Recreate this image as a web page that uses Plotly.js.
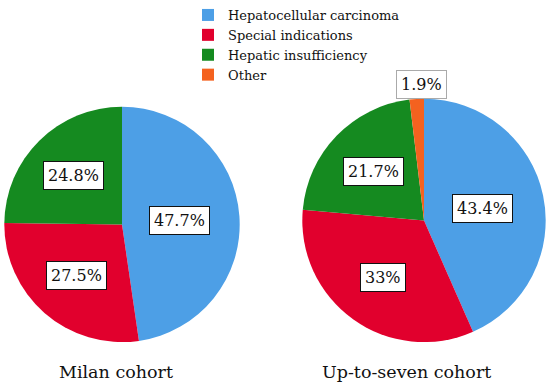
<!DOCTYPE html>
<html><head><meta charset="utf-8">
<script src="https://cdn.plot.ly/plotly-3.0.1.min.js"></script>
<style>html,body{margin:0;padding:0;background:#fff}</style>
</head><body>
<div id="chart" style="width:550px;height:387px"></div>
<script>
const categories = ["Hepatocellular carcinoma", "Special indications", "Hepatic insufficiency", "Other"];
const milanValues = [47.7, 27.5, 24.8, 0];
const upToSevenValues = [43.4, 33, 21.7, 1.9];
const milanLabels = ["47.7%", "27.5%", "24.8%", ""];
const upToSevenLabels = ["43.4%", "33%", "21.7%", "1.9%"];
const cohortTitles = ["Milan cohort", "Up-to-seven cohort"];
const colors = ["#4d9fe6", "#e1002d", "#158a20", "#f4621f"];

const W = 550, H = 387;
const FONT = 'DejaVu Serif';
// pie placement in pixels: [cx, cy, r]
const pies = [[122, 224, 118], [424, 220, 122]];
const px = x => x / W, py = y => 1 - y / H;

function pieTrace(vals, i, showLegend) {
  const [cx, cy, r] = pies[i];
  return {
    type: 'pie', labels: categories, values: vals, sort: false, direction: 'clockwise',
    rotation: 0, textinfo: 'none', hoverinfo: 'label+percent',
    marker: {colors: colors, line: {width: 0}},
    domain: {x: [px(cx - r), px(cx + r)], y: [py(cy + r), py(cy - r)]},
    showlegend: showLegend, name: cohortTitles[i]
  };
}

const annotations = [];
[[milanValues, milanLabels], [upToSevenValues, upToSevenLabels]].forEach(([vals, labs], i) => {
  const [cx, cy, r] = pies[i];
  const total = vals.reduce((a, b) => a + b, 0);
  let cum = 0;
  vals.forEach((v, k) => {
    const mid = (cum + v / 2) / total; cum += v;
    if (!v || !labs[k]) return;
    const small = v / total < 0.05;
    const ang = mid * 2 * Math.PI;
    const f = small ? 1.12 : (k === 0 ? 0.49 : 0.58);
    let x = cx + Math.sin(ang) * r * f, y = cy - Math.cos(ang) * r * f;
    if (small) x = cx - 3;
    annotations.push({
      x: px(x), y: py(y), xref: 'paper', yref: 'paper', showarrow: false,
      xanchor: 'center', yanchor: 'middle',
      text: labs[k], font: {family: FONT, size: 16, color: '#111'},
      bgcolor: '#fff', bordercolor: small ? '#aaa' : '#111', borderwidth: 1,
      borderpad: 4
    });
  });
  annotations.push({
    x: px(i === 0 ? 116 : 406), y: py(372), xref: 'paper', yref: 'paper', showarrow: false,
    xanchor: 'center', yanchor: 'middle',
    text: cohortTitles[i], font: {family: FONT, size: 17.5, color: '#111'}
  });
});

const layout = {
  width: W, height: H, margin: {l: 0, r: 0, t: 0, b: 0},
  paper_bgcolor: '#fff', plot_bgcolor: '#fff',
  font: {family: FONT},
  legend: {x: px(188), y: py(-1), xanchor: 'left', yanchor: 'top',
    font: {family: FONT, size: 13, color: '#111'}, tracegroupgap: 0, itemwidth: 30,
    bgcolor: 'rgba(0,0,0,0)'},
  annotations: annotations
};

Plotly.newPlot('chart', [pieTrace(upToSevenValues, 1, true), pieTrace(milanValues, 0, false)], layout, {displayModeBar: false, staticPlot: true});
</script>
</body></html>
